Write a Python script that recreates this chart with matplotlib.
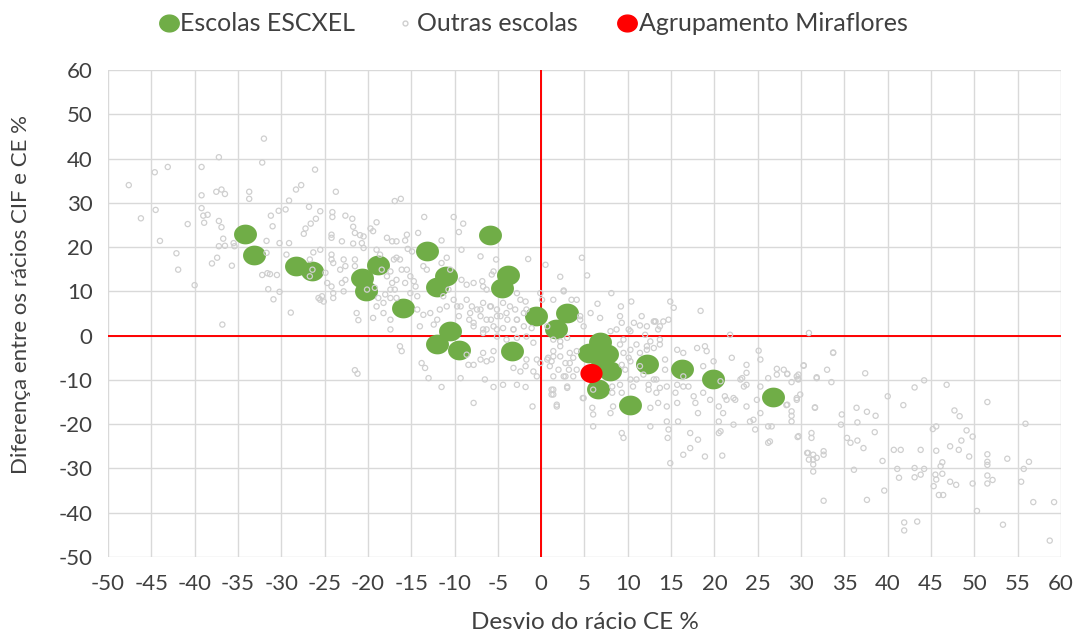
import numpy as np
import matplotlib
matplotlib.use("Agg")
import matplotlib.pyplot as plt
from matplotlib.path import Path
from matplotlib.lines import Line2D

# ---------------- data ----------------
escxel_x = [-34.2, -33.2, -28.3, -26.4, -20.7, -20.2, -18.8, -15.9, -13.2, -12.0, -11.0,
            -12.0, -10.5, -9.5, -5.9, -4.5, -3.8, -3.4, -0.6, 3.0, 1.7, 6.8, 5.5, 7.6,
            7.0, 8.0, 6.6, 10.2, 12.2, 16.2, 19.8, 26.7]
escxel_y = [23.0, 18.3, 15.7, 14.5, 13.0, 10.0, 16.0, 6.2, 19.2, 11.0, 13.4,
            -2.0, 1.0, -3.2, 22.8, 10.8, 13.8, -3.5, 4.4, 5.1, 1.6, -1.5, -3.9, -4.2,
            -5.8, -8.0, -12.1, -15.7, -6.5, -7.6, -9.9, -13.8]

mira_x = [5.7]
mira_y = [-8.5]

outras = [
    (-47.6, 34.0), (-44.6, 36.9), (-43.1, 38.1), (-39.2, 38.1), (-37.2, 40.3), (-32.0, 44.5),
    (-32.2, 39.1), (-46.2, 26.5), (-44.5, 28.4), (-44.0, 21.4), (-42.1, 18.6), (-41.9, 14.9),
    (-40.8, 25.2), (-40.0, 11.4), (-39.2, 31.7), (-39.2, 28.8), (-39.0, 27.1), (-38.5, 27.3),
    (-38.9, 25.5), (-37.5, 32.5), (-36.9, 33.0), (-36.5, 32.0), (-37.2, 25.9), (-36.9, 24.5),
    (-36.7, 21.9), (-37.2, 20.2), (-36.5, 20.3), (-37.4, 17.6), (-38.0, 16.3), (-35.7, 15.8),
    (-35.5, 20.9), (-35.4, 20.2), (-33.7, 32.5), (-33.7, 30.9), (-31.2, 27.1), (-31.0, 24.7),
    (-30.3, 28.2), (-29.5, 28.5), (-29.1, 30.5), (-28.3, 33.0), (-27.7, 34.0), (-31.7, 21.4),
    (-30.2, 20.9), (-29.1, 20.9), (-31.7, 18.7), (-32.2, 13.7), (-31.6, 14.1), (-31.3, 13.9),
    (-30.5, 13.7), (-31.5, 10.5), (-30.2, 9.9), (-30.9, 8.2), (-29.4, 18.3), (-28.9, 5.2),
    (-27.4, 23.0), (-27.2, 24.2), (-26.8, 29.1), (-36.8, 2.5),
    (-26.1, 37.5), (-23.7, 32.5), (-16.9, 30.4), (-16.2, 30.9), (-25.5, 28.1), (-24.1, 27.9),
    (-24.1, 26.8), (-22.6, 27.1), (-21.8, 26.4), (-26.0, 26.4), (-26.6, 25.3), (-19.0, 25.6),
    (-19.7, 24.2), (-19.4, 23.6), (-21.7, 24.6), (-21.5, 23.2), (-20.9, 22.7), (-20.5, 22.4),
    (-24.2, 22.8), (-24.2, 22.1), (-23.0, 21.3), (-21.7, 20.8), (-20.7, 20.9), (-20.5, 19.8),
    (-17.8, 22.1), (-17.2, 21.3), (-16.7, 21.3), (-15.7, 21.5), (-15.5, 22.8), (-14.2, 23.2),
    (-13.5, 26.8), (-10.1, 26.8), (-11.5, 21.5), (-15.4, 19.6), (-14.9, 19.0), (-19.0, 19.4),
    (-18.6, 18.3), (-17.0, 17.2), (-16.7, 17.6), (-16.3, 17.2), (-25.5, 19.4), (-26.3, 18.8),
    (-24.2, 18.3), (-24.2, 17.2), (-24.0, 16.4), (-22.8, 17.2), (-22.6, 15.7), (-23.2, 14.9),
    (-23.0, 11.9), (-22.6, 12.6), (-21.5, 17.2), (-21.5, 15.7), (-26.7, 17.2), (-26.4, 14.9),
    (-26.7, 13.4), (-24.9, 14.2), (-24.7, 11.9), (-25.3, 8.9), (-25.5, 8.1), (-24.2, 11.1),
    (-24.0, 9.6), (-24.0, 8.5), (-22.8, 10.0), (-18.4, 14.9), (-17.4, 14.5), (-17.8, 13.4),
    (-17.2, 11.9), (-16.7, 12.6), (-16.9, 10.4), (-17.4, 10.4), (-18.0, 9.3), (-17.4, 8.5),
    (-16.7, 8.5), (-16.1, 14.9), (-15.5, 14.9), (-15.1, 13.4), (-15.7, 11.9), (-14.7, 12.3),
    (-14.5, 11.1), (-15.1, 9.6), (-14.3, 8.9), (-20.1, 10.4), (-19.2, 10.8), (-18.8, 8.5),
    (-18.2, 7.4), (-11.5, 16.4), (-10.9, 17.6), (-10.5, 14.9), (-13.6, 15.7), (-13.2, 14.9),
    (-25.7, 8.5), (-25.1, 7.7),
    (-9.0, 25.3), (-9.5, 23.4), (-9.2, 19.4), (-7.0, 17.9), (-5.2, 17.2), (-1.5, 17.3),
    (0.5, 16.0), (4.7, 17.6), (5.3, 13.6), (2.2, 13.3), (2.6, 10.2), (-5.5, 14.5), (-5.7, 13.8),
    (-9.2, 12.6), (-8.6, 11.5), (-7.8, 11.9), (-6.8, 12.3), (-6.7, 11.1), (-6.3, 10.4),
    (-2.8, 9.6), (-2.4, 8.1), (-1.8, 7.7), (-0.1, 9.6), (0.1, 8.1), (-10.7, 10.4), (-10.1, 8.1),
    (-11.3, 8.9), (-10.9, 6.6), (-9.7, 6.6), (-8.6, 8.1), (-8.0, 6.6), (-7.4, 5.9), (-6.7, 7.4),
    (-5.8, 6.6), (-5.1, 5.9), (-4.4, 7.4), (-3.6, 6.6), (-3.0, 5.9), (-9.5, 4.4), (-8.3, 3.6),
    (-7.0, 4.4), (-5.8, 3.6), (-4.7, 4.4), (-3.9, 3.6), (-2.8, 3.6), (-2.0, 5.1), (-7.8, 2.1),
    (-6.7, 1.4), (-5.5, 2.1), (-4.4, 1.7), (-3.2, 1.4), (-2.0, 2.1), (-1.1, 1.7), (0.7, 2.1),
    (1.4, 8.1), (3.5, 8.1), (4.1, 8.1), (4.5, 3.6), (4.9, 2.1),
    (-21.3, 5.1), (-21.1, 3.5), (-19.0, 6.6), (-18.2, 5.1), (-19.4, 4.0), (-17.4, 3.6),
    (-17.4, 1.4), (-14.3, 5.9), (-13.6, 4.7), (-12.8, 5.1), (-11.7, 5.9), (-12.0, 3.6),
    (-14.0, 2.1), (-12.4, 2.5), (-9.3, 6.6), (-8.2, 5.1), (-7.0, 5.9), (-5.9, 6.6), (-7.8, 2.9),
    (-6.3, 3.6), (-5.1, 4.4), (-4.0, 5.1), (-2.8, 3.6), (-1.7, 5.9), (-3.2, 1.4), (-5.1, 1.4),
    (-6.3, 1.4), (-16.3, -2.4), (-16.1, -3.5), (-21.5, -7.8), (-21.2, -8.6), (-13.8, -6.2),
    (-13.4, -7.3), (-13.0, -9.6), (-11.5, -11.6), (-9.3, -9.6), (-8.4, -6.6), (-7.8, -6.6),
    (-7.0, -5.4), (-6.7, -3.9), (-5.5, -3.5), (-6.3, -5.8), (-6.5, -9.9), (-5.5, -11.6),
    (-4.4, -11.1), (-2.8, -11.1), (-1.8, -11.6), (-7.8, -15.2), (-3.2, -7.3), (-2.4, -8.1),
    (-1.8, -6.9), (-0.9, -8.1), (-0.5, -9.2), (-1.7, -5.4), (-0.5, -5.4), (-0.1, -6.2),
    (0.8, -5.0), (1.2, -5.8), (-1.0, -16.0), (1.4, -12.2), (1.2, -13.3), (1.8, -16.0),
    (-5.7, -5.4), (-8.6, -4.3), (-6.7, 0.6), (-5.1, -0.2), (-4.0, -0.9), (-2.8, -0.5),
    (-1.7, -0.2), (-0.9, -1.6),
    (2.6, 10.0), (8.1, 9.6), (6.5, 7.2), (10.4, 7.7), (4.5, 4.4), (5.7, 5.1), (6.8, 4.0),
    (9.1, 4.4), (9.3, 2.9), (8.7, 1.4), (11.6, 4.4), (13.0, 3.2), (12.2, 2.1), (13.7, 2.1),
    (14.1, 3.2), (8.0, 1.0), (10.3, 1.0), (9.5, -0.9), (11.0, -2.0), (12.2, -2.4), (13.7, -2.0),
    (14.3, -5.4), (2.2, -2.4), (1.4, -4.7), (3.3, -3.9), (3.3, -6.2), (4.1, -7.7), (9.5, -3.9),
    (10.3, -5.8), (11.4, -6.9), (9.7, -7.7), (9.2, 6.6), (14.9, 7.7), (14.7, 3.6), (13.1, 3.2),
    (11.4, 2.3), (10.7, 2.9), (10.1, 1.4), (12.0, 0.2),
    (1.4, -3.5), (2.2, -4.7), (0.7, -5.4), (2.8, -6.2), (1.0, -6.9), (3.2, -7.7), (3.7, -5.0),
    (4.1, -3.5), (2.2, -1.3), (3.0, -0.5), (1.4, -0.9),
    (3.0, -11.8), (2.8, -9.2), (4.8, -14.1), (5.9, -16.3), (6.0, -17.8), (6.0, -20.5),
    (8.0, -17.5), (8.3, -16.0), (9.1, -11.1), (9.3, -12.9), (9.3, -22.0), (9.5, -23.1),
    (12.6, -16.3), (12.6, -20.5), (11.0, -9.9), (12.4, -11.1), (13.3, -9.9), (13.7, -11.8),
    (13.5, -15.2), (14.5, -16.0), (14.5, -19.4), (14.7, -21.2), (14.6, -23.1), (14.9, -28.8),
    (15.7, -11.1), (15.5, -12.9), (15.7, -15.2), (15.8, -19.4), (16.4, -9.2), (16.4, -11.5),
    (17.2, -22.0), (18.1, -23.5), (17.2, -25.4), (16.4, -26.9), (18.9, -27.3), (20.9, -27.1),
    (17.6, -13.7), (17.8, -15.2), (18.7, -12.9), (19.5, -14.5), (18.1, -17.5), (21.0, -17.5),
    (20.5, -19.4), (20.7, -21.6), (20.5, -22.0), (22.2, -20.1), (21.4, -14.5), (22.4, -14.5),
    (23.2, -9.6), (23.7, -11.1), (24.9, -14.5), (23.7, -16.0), (24.5, -19.0), (25.3, -17.5),
    (24.1, -19.4), (24.7, -21.2), (26.2, -20.5), (26.6, -20.5), (26.4, -23.9), (26.2, -24.2),
    (25.3, -11.5), (26.2, -9.6), (27.2, -8.8), (28.4, -15.6), (29.5, -14.5), (29.7, -22.7),
    (30.7, -26.5), (30.9, -28.0), (31.2, -22.0), (31.2, -23.1), (31.8, -27.6),
    (30.9, 0.6), (33.7, -3.8), (33.0, -7.7), (31.8, -9.6), (30.3, -6.8), (29.5, -9.2),
    (29.7, -9.9), (27.2, -7.5), (28.4, -8.6), (28.0, -7.7), (29.5, -14.1), (29.9, -13.3),
    (31.6, -16.2), (25.3, -5.4), (25.1, -3.4), (23.7, -6.6), (23.7, -8.4), (23.0, -9.9),
    (22.2, -14.1), (23.4, -11.5), (22.0, -5.0), (21.8, 0.2), (18.4, 5.6), (15.3, 6.3),
    (19.9, -5.8), (20.7, -10.3), (21.2, -13.7), (20.5, -16.0), (18.0, -2.8), (18.9, -2.4),
    (19.1, -3.5), (18.7, -6.9), (17.0, -11.5), (15.7, -3.2), (16.4, -3.9), (14.3, -7.7),
    (14.5, -11.5), (13.3, -12.9), (12.4, -12.2), (13.2, 3.2), (13.5, 1.4), (13.7, -0.9),
    (12.6, -1.3), (13.0, -2.8), (12.2, -3.2), (11.4, -3.9), (9.1, -2.0), (10.3, -3.2),
    (10.1, -5.0), (9.3, -6.6), (10.3, -9.9), (10.6, -11.5), (11.8, -8.8), (13.0, -9.9),
    (8.2, -11.5), (8.2, -12.9), (6.0, -12.2), (4.9, -14.1), (1.8, -15.6), (1.2, -12.2),
    (1.4, -13.3), (3.0, -11.5), (2.6, -9.2), (1.4, -9.2), (2.0, -7.7), (3.7, -9.2),
    (30.8, -26.5), (31.4, -26.9), (32.6, -26.1), (32.6, -26.9), (31.4, -29.1), (31.4, -30.7),
    (31.4, -28.0),
    (28.4, -8.7), (28.9, -10.5), (29.6, -9.8), (29.7, -8.8), (30.3, -6.7), (31.8, -9.4),
    (33.5, -10.5), (33.7, -3.9), (28.3, -15.7), (28.9, -17.1), (28.9, -18.1), (28.9, -19.4),
    (29.6, -22.9), (31.6, -16.3), (32.6, -37.3),
    (37.4, -8.5), (34.7, -17.8), (34.6, -20.1), (35.3, -23.1), (35.7, -24.2), (36.5, -23.7),
    (36.4, -16.3), (37.6, -17.2), (36.5, -19.6), (38.6, -18.1), (38.5, -21.8), (37.2, -25.4),
    (36.1, -30.3), (39.4, -28.3), (37.6, -37.1), (39.6, -35.0), (40.0, -13.7),
    (40.7, -25.8), (41.5, -25.8), (41.1, -30.1), (41.3, -32.1), (43.1, -29.9), (43.8, -25.8),
    (43.1, -32.0), (43.8, -31.4), (41.8, -15.7), (43.1, -11.7), (44.2, -10.1), (41.9, -42.2),
    (41.9, -44.0), (43.4, -42.0),
    (46.8, -11.1), (47.7, -16.9), (48.3, -18.2), (45.2, -21.1), (45.6, -20.5), (45.6, -26.0),
    (47.2, -25.0), (48.2, -25.8), (48.5, -23.7), (49.1, -21.4), (49.8, -22.8), (49.4, -27.3),
    (46.3, -28.6), (46.1, -29.5), (46.3, -31.2), (45.5, -31.4), (45.6, -32.5), (45.3, -34.0),
    (47.2, -33.0), (47.9, -33.7), (45.9, -36.0), (46.4, -36.0), (44.2, -30.1),
    (49.8, -33.4), (50.3, -39.6), (51.5, -15.0), (51.5, -26.8), (51.5, -28.5), (51.5, -29.2),
    (51.5, -31.6), (51.5, -33.4), (52.1, -32.6), (53.8, -27.8), (53.3, -42.7), (55.9, -19.9),
    (56.3, -28.5), (55.7, -30.1), (55.4, -33.0), (56.8, -37.6), (58.7, -46.3), (59.2, -37.6),
]
outras_x = [p[0] for p in outras]
outras_y = [p[1] for p in outras]

x_ticks = list(range(-50, 61, 5))
y_ticks = list(range(-50, 61, 10))

legend_labels = ["Escolas ESCXEL", "Outras escolas", "Agrupamento Miraflores"]
x_label = "Desvio do rácio CE %"
y_label = "Diferença entre os rácios CIF e CE %"

# ---------------- style ----------------
plt.rcParams['font.family'] = ['Lato', 'DejaVu Sans']
plt.rcParams['axes.unicode_minus'] = False
GREEN = '#70AD47'
RED = '#FF0000'
GRID = '#D9D9D9'
TEXT = '#404040'

# ellipse marker (chart is stretched horizontally)
t = np.linspace(0, 2 * np.pi, 60)
ell = Path(np.column_stack([1.16 * np.cos(t), np.sin(t)]), closed=True)

fig = plt.figure(figsize=(10.82, 6.37), dpi=100)
ax = fig.add_axes([0.0998, 0.1256, 0.8808, 0.7645])

ax.set_xlim(-50, 60)
ax.set_ylim(-50, 60)
ax.set_xticks(x_ticks)
ax.set_yticks(y_ticks)
ax.grid(True, color=GRID, linewidth=1.0, zorder=0)
ax.set_axisbelow(True)
for s in ax.spines.values():
    s.set_visible(False)
ax.tick_params(length=0, labelsize=16, labelcolor=TEXT)
ax.tick_params(axis='y', pad=11)
ax.tick_params(axis='x', pad=12)

ax.axhline(0, color=RED, linewidth=1.4, zorder=1)
ax.axvline(0, color=RED, linewidth=1.4, zorder=1)

ax.scatter(escxel_x, escxel_y, marker=ell, s=16.5 ** 2, color=GREEN, linewidths=0, zorder=2)
ax.scatter(outras_x, outras_y, marker='o', s=14, facecolors='none', edgecolors='#CFCFCF',
           linewidths=0.9, zorder=3)
ax.scatter(mira_x, mira_y, marker=ell, s=16 ** 2, color=RED, linewidths=0, zorder=4)

ax.set_xlabel(x_label, fontsize=17.5, color=TEXT)
ax.set_ylabel(y_label, fontsize=16, color=TEXT)
ax.xaxis.set_label_coords(0.5, -0.112)
ax.yaxis.set_label_coords(-0.081, 0.54)

handles = [
    Line2D([], [], linestyle='none', marker=ell, markersize=14, color=GREEN),
    Line2D([], [], linestyle='none', marker='o', markersize=3.5, markerfacecolor='none',
           markeredgecolor='#CFCFCF'),
    Line2D([], [], linestyle='none', marker=ell, markersize=14, color=RED),
]
fig.legend(handles, legend_labels, loc='upper center', bbox_to_anchor=(0.493, 1.016), ncol=3,
           frameon=False, fontsize=18, handletextpad=0.05, columnspacing=1.6,
           handlelength=0.8, labelcolor=TEXT)

fig.savefig('out.png', dpi=100)
